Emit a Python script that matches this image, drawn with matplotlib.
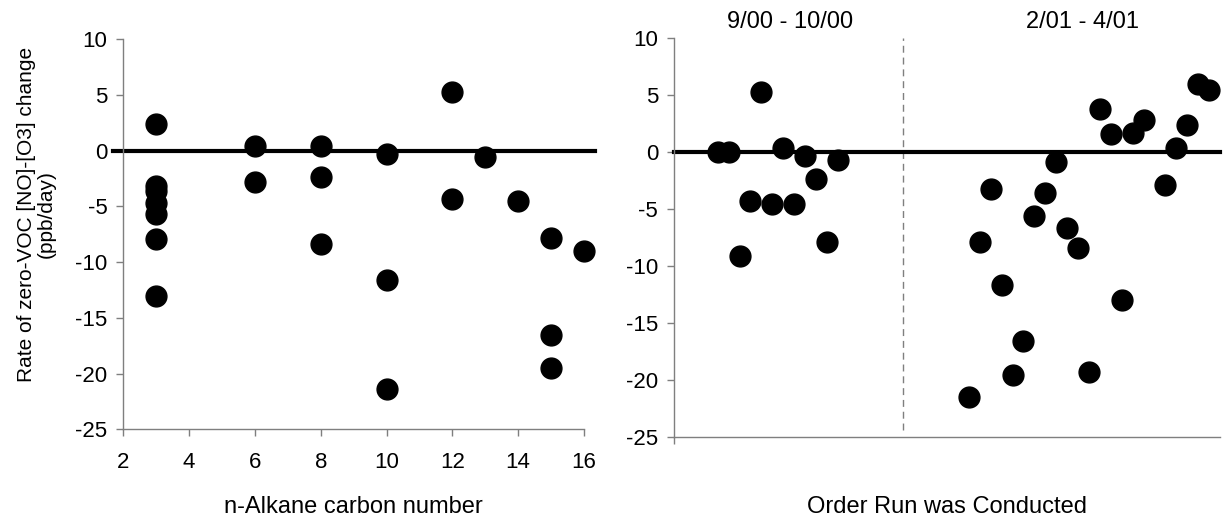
import matplotlib
matplotlib.use("Agg")
import matplotlib.pyplot as plt

plt.rcParams["font.family"] = ["Liberation Sans", "DejaVu Sans"]

# --- n-alkane experiments: carbon number vs. zero-VOC rate ---
carbon_number = [3, 3, 3, 3, 3, 3, 3,
                 6, 6,
                 8, 8, 8,
                 10, 10, 10,
                 12, 12,
                 13,
                 14,
                 15, 15, 15,
                 16]
carbon_rate = [2.4, -3.2, -3.6, -4.7, -5.7, -7.9, -13.0,
               0.4, -2.8,
               0.4, -2.4, -8.4,
               -0.3, -11.6, -21.4,
               5.3, -4.3,
               -0.6,
               -4.5,
               -7.8, -16.5, -19.5,
               -9.0]

# --- run sequence: fall 2000 and spring 2001 periods ---
run_order_fall = [4, 5, 6, 7, 8, 9, 10, 11, 12, 13, 14, 15]
rate_fall = [0.0, 0.0, -9.1, -4.3, 5.3, -4.6, 0.4, -4.6, -0.35, -2.4, -7.9, -0.7]

run_order_spring = [27, 28, 29, 30, 31, 32, 33, 34, 35, 36, 37, 38, 39, 40, 41,
                    42, 43, 45, 46, 47, 48, 49]
rate_spring = [-21.5, -7.9, -3.2, -11.65, -19.6, -16.6, -5.65, -3.6, -0.85, -6.65,
               -8.4, -19.3, 3.8, 1.55, -13.0, 1.65, 2.8, -2.85, 0.4, 2.4, 6.0, 5.5]

period_split = 21
period_labels = ["9/00 - 10/00", "2/01 - 4/01"]

y_ticks = [10, 5, 0, -5, -10, -15, -20, -25]
carbon_ticks = [2, 4, 6, 8, 10, 12, 14, 16]

W, H = 1225, 518
fig = plt.figure(figsize=(W / 100, H / 100), dpi=100)

def px_box(x0, x1, ytop, ybot):
    return [x0 / W, 1 - ybot / H, (x1 - x0) / W, (ybot - ytop) / H]

ax1 = fig.add_axes(px_box(123.3, 584, 39.2, 429.3))
ax2 = fig.add_axes(px_box(674, 1220, 38.3, 436.7))

spine_col = "#7f7f7f"
tick_fs = 16
label_fs = 17
for ax in (ax1, ax2):
    for side in ("top", "right"):
        ax.spines[side].set_visible(False)
    for side in ("left", "bottom"):
        ax.spines[side].set_color(spine_col)
        ax.spines[side].set_linewidth(1.0)
    ax.set_ylim(-25, 10)
    ax.set_yticks(y_ticks)
    ax.set_yticklabels([str(v) for v in y_ticks])
    ax.tick_params(direction="out", length=5, width=1.0, color=spine_col,
                   labelcolor="black", labelsize=tick_fs, pad=6.5)
    ax.set_facecolor("none")

# left panel
ax1.set_xlim(2, 16)
ax1.set_xticks(carbon_ticks)
ax1.set_xticklabels([str(v) for v in carbon_ticks])
ax1.tick_params(axis="x", pad=11)
ax1.plot([-0.022, 1.024], [0, 0], color="black", lw=3,
         transform=ax1.get_yaxis_transform(), clip_on=False, zorder=2)
ax1.plot(carbon_number, carbon_rate, "o", color="black", ms=15,
         clip_on=False, zorder=3)

# right panel
ax2.set_xlim(0, 50)
ax2.set_xticks([0])
ax2.set_xticklabels([""])
ax2.plot([0, 1], [0, 0], color="black", lw=3,
         transform=ax2.get_yaxis_transform(), clip_on=False, zorder=2)
ax2.plot([period_split, period_split], [-24.4, 10], color="#7f7f7f", lw=1,
         linestyle=(0, (5, 3.5)), zorder=1)
ax2.plot(run_order_fall, rate_fall, "o", color="black", ms=15,
         clip_on=False, zorder=3)
ax2.plot(run_order_spring, rate_spring, "o", color="black", ms=15,
         clip_on=False, zorder=3)

fig.text(790 / W, 1 - 28.3 / H, period_labels[0], ha="center", va="baseline",
         fontsize=label_fs)
fig.text(1083 / W, 1 - 28.3 / H, period_labels[1], ha="center", va="baseline",
         fontsize=label_fs)

fig.text(36 / W, 1 - 214 / H, "Rate of zero-VOC [NO]-[O3] change\n(ppb/day)",
         rotation=90, ha="center", va="center", fontsize=15,
         multialignment="center", linespacing=1.05)
fig.text(353.7 / W, 1 - 513 / H, "n-Alkane carbon number",
         ha="center", va="baseline", fontsize=label_fs)
fig.text(947 / W, 1 - 513 / H, "Order Run was Conducted",
         ha="center", va="baseline", fontsize=label_fs)

fig.savefig("out.png", dpi=100, facecolor="white")
